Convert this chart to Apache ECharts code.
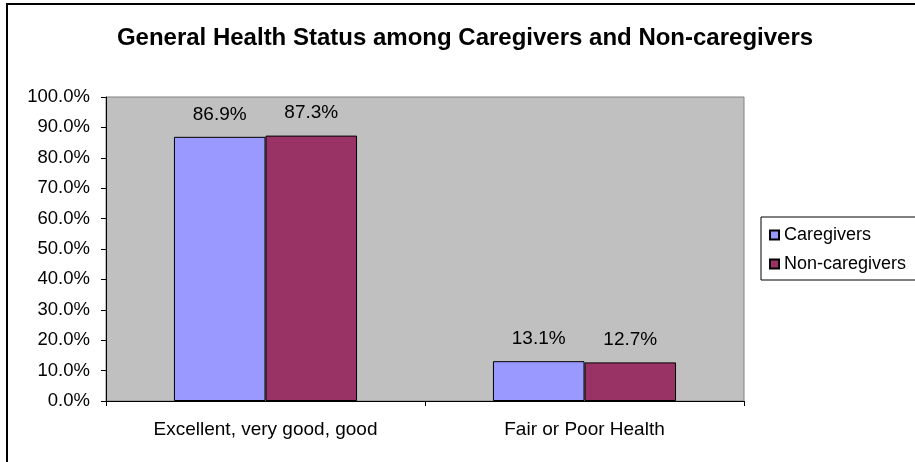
<!DOCTYPE html>
<html>
<head>
<meta charset="utf-8">
<script src="https://cdn.jsdelivr.net/npm/echarts@6/dist/echarts.min.js"></script>
<style>
  html, body { margin: 0; padding: 0; background: #fff; }
  #chart { width: 915px; height: 462px; }
</style>
</head>
<body>
<div id="chart"></div>
<script>
  // data
  const categories = ['Excellent, very good, good', 'Fair or Poor Health'];
  const caregivers = [86.9, 13.1];
  const nonCaregivers = [87.3, 12.7];

  const font = '"Liberation Sans", Arial, sans-serif';
  const chart = echarts.init(document.getElementById('chart'));

  const label = {
    show: true,
    position: 'top',
    distance: 13,
    color: '#000',
    fontFamily: font,
    fontSize: 19,
    formatter: p => p.value.toFixed(1) + '%'
  };

  chart.setOption({
    animation: false,
    title: {
      text: 'General Health Status among Caregivers and Non-caregivers',
      left: 460,
      textAlign: 'center',
      top: 21,
      textStyle: { fontFamily: font, fontSize: 24, fontWeight: 'bold', color: '#000' }
    },
    // outer chart frame
    graphic: [{
      type: 'rect',
      shape: { x: 7, y: 4, width: 930, height: 480 },
      style: { fill: 'none', stroke: '#000', lineWidth: 2 },
      silent: true
    }],
    legend: {
      orient: 'vertical',
      left: 761,
      top: 217,
      padding: [9, 10, 7, 8],
      itemGap: 11,
      itemWidth: 9,
      itemHeight: 9,
      borderColor: '#000',
      borderWidth: 1,
      icon: 'rect',
      textStyle: { fontFamily: font, fontSize: 18, color: '#000' },
      data: ['Caregivers', 'Non-caregivers']
    },
    grid: {
      left: 106,
      top: 97,
      right: 171,
      bottom: 61,
      show: true,
      backgroundColor: '#C0C0C0',
      borderColor: '#808080',
      borderWidth: 1
    },
    xAxis: {
      type: 'category',
      data: categories,
      axisLine: { lineStyle: { color: '#000', width: 1 } },
      axisTick: { show: true, length: 5, inside: false, lineStyle: { color: '#000' } },
      axisLabel: { margin: 19, color: '#000', fontFamily: font, fontSize: 19 }
    },
    yAxis: {
      type: 'value',
      min: 0,
      max: 100,
      interval: 10,
      splitLine: { show: false },
      axisLine: { show: true, lineStyle: { color: '#000' } },
      axisTick: { show: true, length: 5, lineStyle: { color: '#000' } },
      axisLabel: {
        margin: 16,
        color: '#000',
        fontFamily: font,
        fontSize: 18.5,
        formatter: v => v.toFixed(1) + '%'
      }
    },
    series: [{
      name: 'Caregivers',
      type: 'bar',
      data: caregivers,
      barGap: '0%',
      barCategoryGap: '42.6%',
      itemStyle: { color: '#9999FF', borderColor: '#000', borderWidth: 1 },
      label: label
    }, {
      name: 'Non-caregivers',
      type: 'bar',
      data: nonCaregivers,
      itemStyle: { color: '#993366', borderColor: '#000', borderWidth: 1 },
      label: label
    }]
  });
</script>
</body>
</html>
